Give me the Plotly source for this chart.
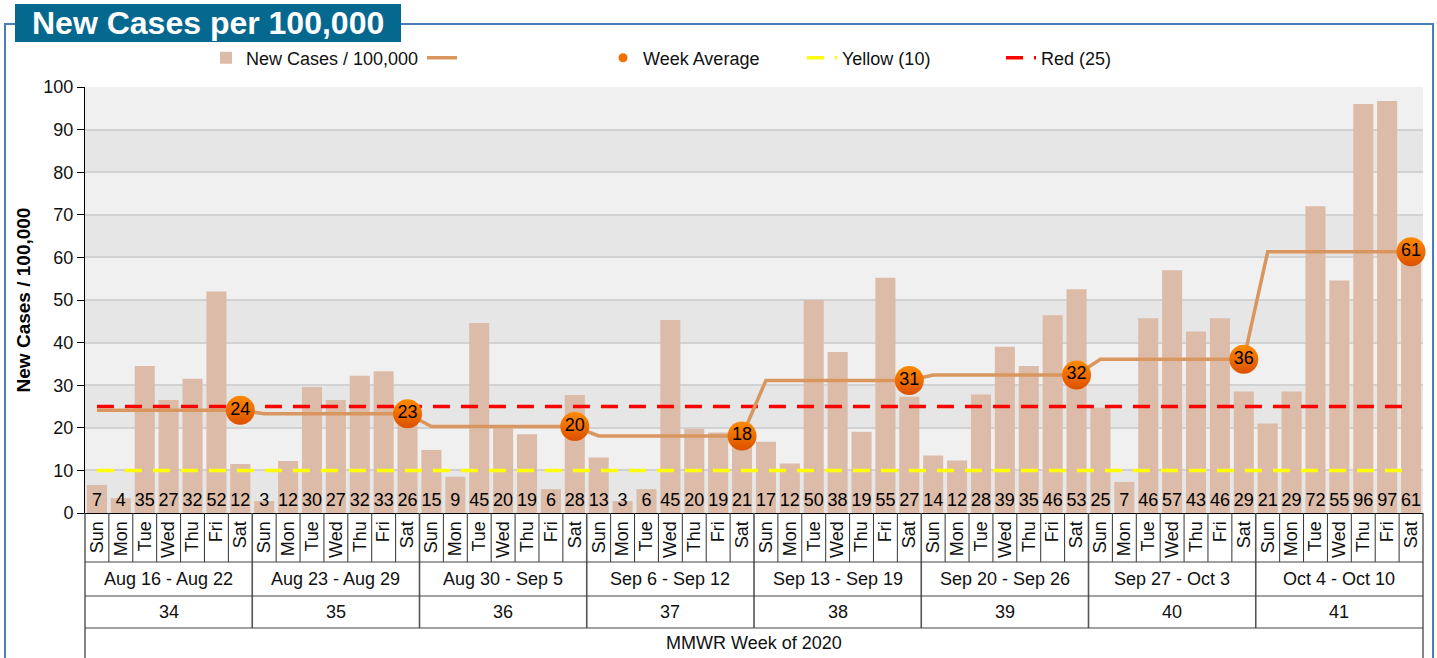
import plotly.graph_objects as go

# ---------------- data ----------------
days = ["Sun", "Mon", "Tue", "Wed", "Thu", "Fri", "Sat"]
week_ranges = ["Aug 16 - Aug 22", "Aug 23 - Aug 29", "Aug 30 - Sep 5", "Sep 6 - Sep 12",
               "Sep 13 - Sep 19", "Sep 20 - Sep 26", "Sep 27 - Oct 3", "Oct 4 - Oct 10"]
week_numbers = [34, 35, 36, 37, 38, 39, 40, 41]
new_cases = [
    6.6, 3.5, 34.5, 26.5, 31.5, 52.0, 11.5,      # wk 34
    2.8, 12.2, 29.6, 26.5, 32.2, 33.3, 25.6,     # wk 35
    14.8, 8.5, 44.6, 20.3, 18.5, 5.6, 27.7,      # wk 36
    13.0, 2.8, 5.6, 45.3, 19.8, 18.9, 21.0,      # wk 37
    16.7, 11.6, 50.0, 37.8, 19.1, 55.2, 27.3,    # wk 38
    13.5, 12.3, 27.8, 39.0, 34.5, 46.4, 52.5,    # wk 39
    24.7, 7.3, 45.7, 57.0, 42.6, 45.7, 28.5,     # wk 40
    21.0, 28.5, 72.0, 54.6, 96.0, 96.7, 61.0,    # wk 41
]
week_avg = [24.1, 23.3, 20.3, 18.1, 31.1, 32.4, 36.1, 61.3]
yellow_level = 10
red_level = 25

# ---------------- geometry helpers ----------------
W, H = 1437, 658
L, R, T, B = 85, 1423, 87, 513
FONT = "Liberation Sans, Arial, sans-serif"


def pxx(px):
    return (px - L) / (R - L)


def pxy(py):
    return (B - py) / (B - T)


n = len(new_cases)
xs = list(range(n))
day_labels = [days[i % 7] for i in xs]
nweeks = len(week_ranges)

# week-average step path
avg_x, avg_y = [], []
for w, v in enumerate(week_avg):
    avg_x += [7 * w, 7 * w + 6]
    avg_y += [v, v]
sat_x = [7 * w + 6 for w in range(nweeks)]

fig = go.Figure()

fig.add_trace(go.Bar(
    x=xs, y=new_cases, name="New Cases / 100,000",
    marker=dict(color="#dcbca8", line=dict(width=0)),
    texttemplate="%{y:.0f}", textposition="inside", insidetextanchor="start",
    textangle=0, constraintext="none",
    insidetextfont=dict(color="black", size=18, family=FONT),
    legendrank=1, legendwidth=171, hoverinfo="x+y",
))

fig.add_trace(go.Scatter(
    x=[xs[0], xs[-1]], y=[yellow_level, yellow_level], mode="lines", name="Yellow (10)",
    line=dict(color="#ffff00", width=3.5, dash="17px,11px"), legendrank=4, legendwidth=154,
    hoverinfo="skip",
))
fig.add_trace(go.Scatter(
    x=[xs[0], xs[-1]], y=[red_level, red_level], mode="lines", name="Red (25)",
    line=dict(color="#ff0000", width=3.5, dash="17px,11px"), legendrank=5,
    hoverinfo="skip",
))

fig.add_trace(go.Scatter(
    x=avg_x, y=avg_y, mode="lines", name="",
    line=dict(color="#d9965e", width=3.5), legendrank=2, legendwidth=136,
    hoverinfo="skip",
))
fig.add_trace(go.Scatter(
    x=sat_x, y=week_avg, mode="markers+text", name="Week Average", showlegend=False,
    marker=dict(size=29, color="#ff8a00", gradient=dict(type="vertical", color="#dc5000"),
                line=dict(width=0)),
    texttemplate="%{y:.0f}", textposition="middle center",
    textfont=dict(color="black", size=18, family=FONT), cliponaxis=False,
))
# legend-only entry for the week average
fig.add_trace(go.Scatter(
    x=[None], y=[None], mode="markers", name="Week Average",
    marker=dict(size=9, color="#f07000"), legendrank=3, legendwidth=154,
))

shapes = []
# background bands
for k in range(0, 100, 20):
    shapes.append(dict(type="rect", xref="paper", yref="y", x0=0, x1=1, y0=k, y1=k + 10,
                       fillcolor="#e6e6e6", line=dict(width=0), layer="below"))

# table lines below x axis
line_col = "#333333"
for i in range(1, n):
    is_week = (i % 7 == 0)
    y_end = 628 if is_week else 562
    shapes.append(dict(type="line", xref="x", yref="paper", x0=i - 0.5, x1=i - 0.5,
                       y0=pxy(513), y1=pxy(y_end),
                       line=dict(color="#555555" if is_week else line_col,
                                 width=1.6 if is_week else 1)))
for xp in (0, 1):
    shapes.append(dict(type="line", xref="paper", yref="paper", x0=xp, x1=xp,
                       y0=pxy(513), y1=pxy(660), line=dict(color=line_col, width=1.2)))
for yy in (562, 596, 628):
    shapes.append(dict(type="line", xref="paper", yref="paper", x0=0, x1=1,
                       y0=pxy(yy), y1=pxy(yy), line=dict(color="#444444", width=1.2)))

# outer frame
frame_col = "#4a7ebb"
shapes.append(dict(type="line", xref="paper", yref="paper", x0=pxx(5), x1=pxx(5),
                   y0=pxy(24), y1=pxy(660), line=dict(color=frame_col, width=2)))
shapes.append(dict(type="line", xref="paper", yref="paper", x0=pxx(1433), x1=pxx(1433),
                   y0=pxy(24), y1=pxy(660), line=dict(color=frame_col, width=2)))
shapes.append(dict(type="line", xref="paper", yref="paper", x0=pxx(4), x1=pxx(15),
                   y0=pxy(24), y1=pxy(24), line=dict(color=frame_col, width=2)))
shapes.append(dict(type="line", xref="paper", yref="paper", x0=pxx(401), x1=pxx(1434),
                   y0=pxy(24), y1=pxy(24), line=dict(color=frame_col, width=2)))
# title box
shapes.append(dict(type="rect", xref="paper", yref="paper", x0=pxx(15), x1=pxx(401),
                   y0=pxy(42), y1=pxy(4), fillcolor="#05688f", line=dict(width=0)))

annotations = [
    dict(text="<b>New Cases per 100,000</b>", xref="paper", yref="paper",
         x=pxx(208), y=pxy(23), showarrow=False, xanchor="center", yanchor="middle",
         font=dict(color="white", size=32, family=FONT)),
    dict(text="MMWR Week of 2020", xref="paper", yref="paper", x=0.5, y=pxy(643),
         showarrow=False, xanchor="center", yanchor="middle",
         font=dict(color="#111111", size=18, family=FONT)),
]
for w in range(nweeks):
    annotations.append(dict(text=week_ranges[w], xref="x", yref="paper", x=7 * w + 3,
                            y=pxy(579), showarrow=False, xanchor="center", yanchor="middle",
                            font=dict(color="#111111", size=18, family=FONT)))
    annotations.append(dict(text=str(week_numbers[w]), xref="x", yref="paper", x=7 * w + 3,
                            y=pxy(612), showarrow=False, xanchor="center", yanchor="middle",
                            font=dict(color="#111111", size=18, family=FONT)))

fig.update_layout(
    width=W, height=H,
    margin=dict(l=L, r=W - R, t=T, b=H - B, pad=0),
    paper_bgcolor="white", plot_bgcolor="#f0f0f0",
    font=dict(family=FONT, size=18, color="#111111"),
    bargap=0.16,
    showlegend=True,
    legend=dict(orientation="h", x=pxx(206), y=pxy(58), xanchor="left", yanchor="middle",
                entrywidthmode="pixels", entrywidth=154, traceorder="normal",
                font=dict(size=18, family=FONT, color="#111111"),
                bgcolor="rgba(0,0,0,0)", itemsizing="trace"),
    shapes=shapes, annotations=annotations,
    xaxis=dict(range=[-0.5, n - 0.5], tickmode="array", tickvals=xs, ticktext=day_labels,
               tickangle=-90, ticks="", showgrid=False, zeroline=False,
               showline=True, linecolor="black", linewidth=1,
               tickfont=dict(size=18, family=FONT, color="#111111"), fixedrange=True),
    yaxis=dict(range=[0, 100], dtick=10, ticks="outside", ticklen=7, tickcolor="black",
               showline=True, linecolor="black", linewidth=1,
               showgrid=True, gridcolor="#d2d2d2", gridwidth=1.5, zeroline=False,
               tickfont=dict(size=18, family=FONT, color="#111111"),
               title=dict(text="<b>New Cases / 100,000</b>", standoff=7,
                          font=dict(size=19, family=FONT, color="black"))),
)

fig.write_html(
    "out.html",
    config={"displayModeBar": False},
    post_script="document.body.style.margin='0';document.body.style.overflow='hidden';",
)
